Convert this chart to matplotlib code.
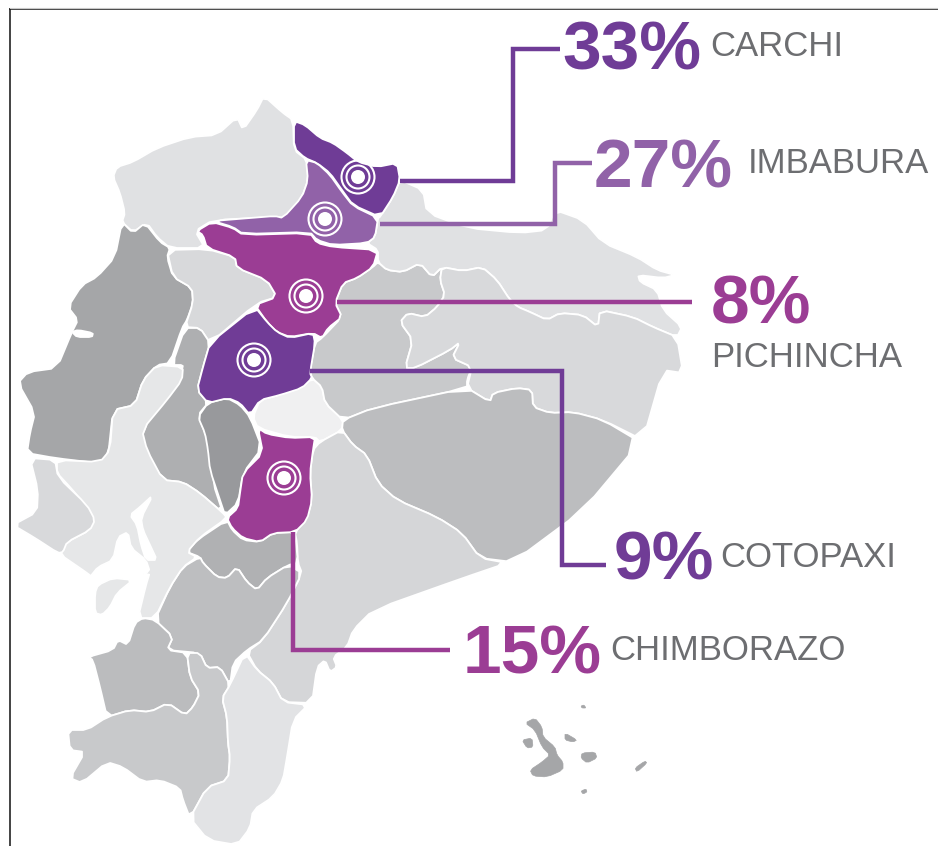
import matplotlib
matplotlib.use("Agg")
import matplotlib.pyplot as plt
from matplotlib.patches import Circle

plt.rcParams["font.family"] = ["Liberation Sans", "DejaVu Sans"]

# 値とラベル
provinces = ["CARCHI", "IMBABURA", "PICHINCHA", "COTOPAXI", "CHIMBORAZO"]
percents = [33, 27, 8, 9, 15]
colors = ["#6f3c96", "#9162a8", "#9b3d94", "#703c96", "#9b3d94"]

# 県の輪郭 (元画像の座標で読み取り)
esmeraldas = [(264,96),(283,113),(293,120),(294,150),(307,160),(308,180),(302,197),(287,218),(275,217),(213,220),(195,231),(205,248),(170,248),(157,237),(147,223),(133,232),(122,222),(125,213),(120,193),(113,177),(117,167),(133,162),(157,148),(190,137),(217,135),(237,117),(243,130),(257,110)]
carchi = [(294,121),(305,125),(320,138),(333,143),(347,153),(358,162),(377,167),(397,163),(400,180),(393,197),(380,217),(353,205),(342,190),(330,173),(317,163),(305,158),(294,148)]
imbabura = [(306,160),(317,163),(330,175),(342,192),(353,206),(378,218),(375,237),(367,243),(333,245),(317,240),(310,232),(243,234),(233,227),(213,221),(250,218),(275,216),(283,218),(302,197),(308,180)]
pichincha = [(197,231),(212,222),(233,228),(243,235),(310,233),(317,243),(333,247),(378,250),(373,267),(357,278),(343,283),(335,303),(342,317),(328,328),(322,338),(313,333),(290,337),(277,332),(267,322),(255,305),(277,297),(267,280),(237,268),(235,257),(207,248),(203,235)]
manabi = [(122,222),(133,233),(145,223),(160,242),(170,248),(167,257),(173,277),(192,288),(193,303),(187,320),(182,328),(170,363),(157,365),(143,380),(135,405),(113,410),(108,457),(97,463),(55,458),(27,453),(30,433),(35,413),(18,383),(28,372),(57,368),(72,332),(78,320),(68,307),(82,285),(97,277),(115,257)]
santo_domingo = [(167,250),(207,249),(235,257),(237,268),(267,280),(277,297),(257,303),(210,343),(200,328),(185,327),(193,303),(192,288),(173,277)]
los_rios = [(185,328),(200,328),(210,343),(203,367),(197,390),(208,403),(198,415),(205,433),(213,450),(213,483),(223,513),(200,493),(183,482),(163,480),(145,450),(142,430),(167,397),(182,370),(183,365),(172,365)]
bolivar = [(208,403),(227,398),(240,405),(250,417),(262,448),(243,473),(238,503),(225,515),(220,500),(210,470),(208,450),(205,433),(198,417)]
cotopaxi = [(255,307),(267,322),(277,332),(290,338),(313,333),(315,343),(310,373),(312,378),(302,388),(280,395),(260,400),(250,415),(240,403),(228,398),(208,403),(197,390),(203,367),(210,343)]
tungurahua = [(253,417),(260,400),(280,395),(312,378),(322,387),(325,403),(343,420),(342,430),(320,442),(315,437),(290,437),(258,428)]
chimborazo = [(258,428),(267,434),(290,438),(315,437),(313,450),(310,473),(312,500),(307,520),(295,532),(273,533),(260,542),(243,538),(232,528),(227,518),(238,508),(240,493),(243,473),(263,453)]
napo = [(378,262),(387,270),(403,272),(420,263),(432,277),(442,267),(440,280),(445,295),(437,307),(425,317),(408,313),(400,322),(413,340),(405,368),(415,368),(450,350),(460,342),(452,358),(472,367),(467,380),(467,388),(373,408),(343,420),(325,403),(322,387),(312,378),(310,370),(315,343),(322,338),(342,317),(335,303),(343,283),(357,278),(373,267)]
sucumbios = [(380,217),(393,197),(400,180),(423,190),(427,213),(467,228),(520,233),(547,230),(555,210),(583,220),(603,243),(637,257),(657,270),(675,275),(663,278),(638,275),(640,282),(657,290),(663,310),(682,327),(677,337),(653,327),(633,317),(600,310),(598,327),(583,315),(560,313),(547,320),(530,312),(518,307),(510,300),(497,280),(482,267),(463,271),(442,267),(432,277),(420,263),(403,272),(387,270),(378,262),(378,250),(367,243),(375,237),(378,218)]
orellana = [(442,267),(463,271),(482,267),(497,280),(510,300),(518,307),(530,312),(547,320),(560,313),(583,315),(598,327),(600,310),(633,317),(653,327),(677,337),(683,373),(663,370),(643,440),(603,420),(573,412),(550,413),(533,407),(532,390),(517,388),(493,393),(490,402),(467,388),(472,367),(452,358),(460,342),(450,350),(415,368),(405,368),(413,340),(400,322),(408,313),(425,317),(437,307),(445,295),(440,280)]
pastaza = [(343,420),(373,408),(467,388),(490,402),(493,393),(517,388),(532,390),(533,407),(550,413),(573,412),(603,420),(640,442),(583,510),(513,562),(480,558),(462,533),(437,517),(397,500),(378,483),(367,455),(353,445),(342,430)]
morona = [(313,450),(320,442),(342,430),(353,445),(367,455),(378,483),(397,500),(437,517),(462,533),(480,558),(507,563),(463,578),(373,610),(353,630),(347,647),(333,657),(337,667),(330,672),(325,660),(317,667),(312,703),(283,702),(273,683),(257,670),(247,652),(263,640),(287,603),(302,573),(298,563),(297,543),(295,532),(307,518),(312,500),(310,473)]
canar = [(227,520),(232,530),(243,540),(260,542),(273,533),(295,532),(298,563),(288,565),(267,578),(257,590),(247,582),(237,567),(227,578),(217,577),(203,563),(200,557),(187,552),(197,540)]
azuay = [(200,557),(203,563),(217,577),(227,578),(237,567),(247,582),(257,590),(267,578),(288,565),(302,573),(287,603),(263,640),(247,650),(233,663),(230,685),(220,667),(207,668),(200,653),(167,650),(173,637),(155,620),(170,587),(183,567)]
el_oro = [(155,620),(173,637),(167,650),(187,653),(190,677),(200,693),(193,707),(185,715),(168,703),(150,712),(130,710),(107,717),(100,687),(93,660),(88,657),(113,650),(118,640),(128,645),(135,623),(143,618)]
loja = [(107,717),(130,710),(150,712),(168,703),(185,715),(193,707),(200,693),(190,677),(187,653),(200,653),(207,668),(220,667),(230,685),(222,698),(227,717),(228,743),(230,757),(228,780),(207,787),(190,818),(183,800),(180,788),(160,780),(143,782),(123,767),(107,762),(82,783),(70,778),(85,752),(70,750),(68,730),(87,730)]
zamora = [(230,685),(245,653),(257,670),(273,683),(283,702),(308,705),(293,720),(287,757),(283,780),(273,797),(253,810),(250,828),(237,845),(208,840),(190,818),(207,787),(228,780),(230,757),(228,743),(227,717),(222,698)]
guayas = [(57,460),(100,462),(110,450),(113,410),(135,405),(143,380),(157,365),(183,367),(182,380),(167,400),(142,430),(147,450),(163,480),(183,482),(200,493),(223,513),(227,518),(200,537),(187,552),(197,557),(183,567),(170,587),(155,618),(138,618),(146,585),(150,572),(95,580),(90,575),(58,553),(67,542),(90,530),(93,520),(87,507),(70,487),(57,473)]
puna = [(95,593),(98,585),(113,578),(133,580),(117,593),(110,607),(102,615),(95,613)]
santa_elena = [(30,458),(55,460),(58,477),(87,505),(95,520),(90,530),(67,542),(63,552),(58,553),(35,538),(13,525),(37,512),(38,490)]
gulf_a = [(153,495),(140,507),(130,515),(137,525),(141,545),(146,560),(157,560),(150,545),(143,530),(141,518)]
gulf_b = [(118,537),(128,532),(131,548),(146,560),(150,572),(133,577),(95,582),(90,577),(98,567),(113,560)]
bay = [(72,332),(78,330),(93,333),(92,337),(77,337)]
isabela = [(525,723),(535,718),(542,727),(543,737),(555,747),(557,755),(563,762),(563,770),(547,777),(533,776),(530,770),(542,762),(550,755),(542,747),(535,730)]
fernandina = [(522,740),(532,738),(533,747),(527,748)]
santiago = [(565,733),(577,740),(573,742),(565,740)]
santa_cruz = [(582,753),(595,752),(597,758),(587,763),(581,758)]
san_cristobal = [(635,768),(645,761),(647,763),(637,772)]
pinta = [(581,706),(584,705),(586,708),(582,708)]
floreana = [(581,791),(586,789),(587,792),(583,794)]

grays = [
    (esmeraldas, "#e0e1e3"), (manabi, "#a5a6a8"), (santo_domingo, "#d8d9db"),
    (los_rios, "#aeafb1"), (bolivar, "#98999c"), (tungurahua, "#f0f0f1"),
    (napo, "#c8c9cb"), (sucumbios, "#e0e1e3"), (orellana, "#d8d9db"),
    (pastaza, "#bcbdbf"), (morona, "#d5d6d8"), (canar, "#b0b1b3"),
    (azuay, "#bdbec0"), (el_oro, "#bbbcbe"), (loja, "#c8c9cb"),
    (zamora, "#e2e3e5"), (guayas, "#e6e7e8"), (santa_elena, "#d8d9db"),
    (gulf_a, "white"), (gulf_b, "white"), (bay, "white"), (puna, "#e6e7e8"),
]
islands = [isabela, fernandina, santiago, santa_cruz, san_cristobal, pinta, floreana]
highlighted = [carchi, imbabura, pichincha, cotopaxi, chimborazo]

# 引き出し線と注釈の位置
leaders = [
    [(400, 181), (513, 181), (513, 49), (560, 49)],
    [(380, 224), (555, 224), (555, 163), (592, 163)],
    [(337, 302), (692, 302)],
    [(310, 371), (562, 371), (562, 565), (606, 565)],
    [(293, 532), (293, 650), (450, 650)],
]
targets = [(358, 177), (325, 219), (306, 296), (254, 360), (284, 478)]
pct_pos = [(562, 70), (594, 187), (711, 323), (614, 579), (463, 673)]
label_pos = [(710, 56), (748, 173), (711, 367), (720, 567), (610, 660)]

fig = plt.figure(figsize=(9.38, 8.46), dpi=100)
ax = fig.add_axes([0, 0, 1, 1])
ax.set_xlim(0, 938)
ax.set_ylim(846, 0)
ax.axis("off")


# 角を丸める (Chaikin)
def rounded(points):
    out = []
    n = len(points)
    for i in range(n):
        x0, y0 = points[i]
        x1, y1 = points[(i + 1) % n]
        out.append((0.8 * x0 + 0.2 * x1, 0.8 * y0 + 0.2 * y1))
        out.append((0.2 * x0 + 0.8 * x1, 0.2 * y0 + 0.8 * y1))
    return out


def fill_shape(points, color, edge="white", lw=1.3, z=1):
    pts = rounded(points)
    xs = [p[0] for p in pts]
    ys = [p[1] for p in pts]
    ax.fill(xs, ys, facecolor=color, edgecolor=edge, linewidth=lw, joinstyle="round", zorder=z)


for shape, c in grays:
    fill_shape(shape, c)
for shape in islands:
    fill_shape(shape, "#a5a6a8", edge="#a5a6a8", lw=0.5)
for shape, c in zip(highlighted, colors):
    fill_shape(shape, c, z=2)

# 枠線
ax.plot([9.5, 9.5], [846, 9], color="#111111", lw=1.1, zorder=5)
ax.plot([9.5, 938], [9.5, 9.5], color="#111111", lw=1.1, zorder=5)
ax.plot([9.5, 938], [8, 8], color="#c8c8c8", lw=0.8, zorder=5)

for line, c in zip(leaders, colors):
    ax.plot([p[0] for p in line], [p[1] for p in line], color=c, lw=3.2,
            solid_joinstyle="miter", solid_capstyle="butt", zorder=3)

for (x, y) in targets:
    ax.add_patch(Circle((x, y), 16.5, facecolor="none", edgecolor="white", lw=1.5, zorder=4))
    ax.add_patch(Circle((x, y), 11.5, facecolor="none", edgecolor="white", lw=1.5, zorder=4))
    ax.add_patch(Circle((x, y), 7, facecolor="white", edgecolor="none", zorder=4))

for i in range(len(provinces)):
    ax.text(pct_pos[i][0], pct_pos[i][1], f"{percents[i]}%", color=colors[i], fontsize=50,
            fontweight="bold", ha="left", va="baseline", zorder=6)
    ax.text(label_pos[i][0], label_pos[i][1], provinces[i], color="#6d6e71", fontsize=25,
            ha="left", va="baseline", zorder=6)

fig.savefig("out.png", dpi=100)
